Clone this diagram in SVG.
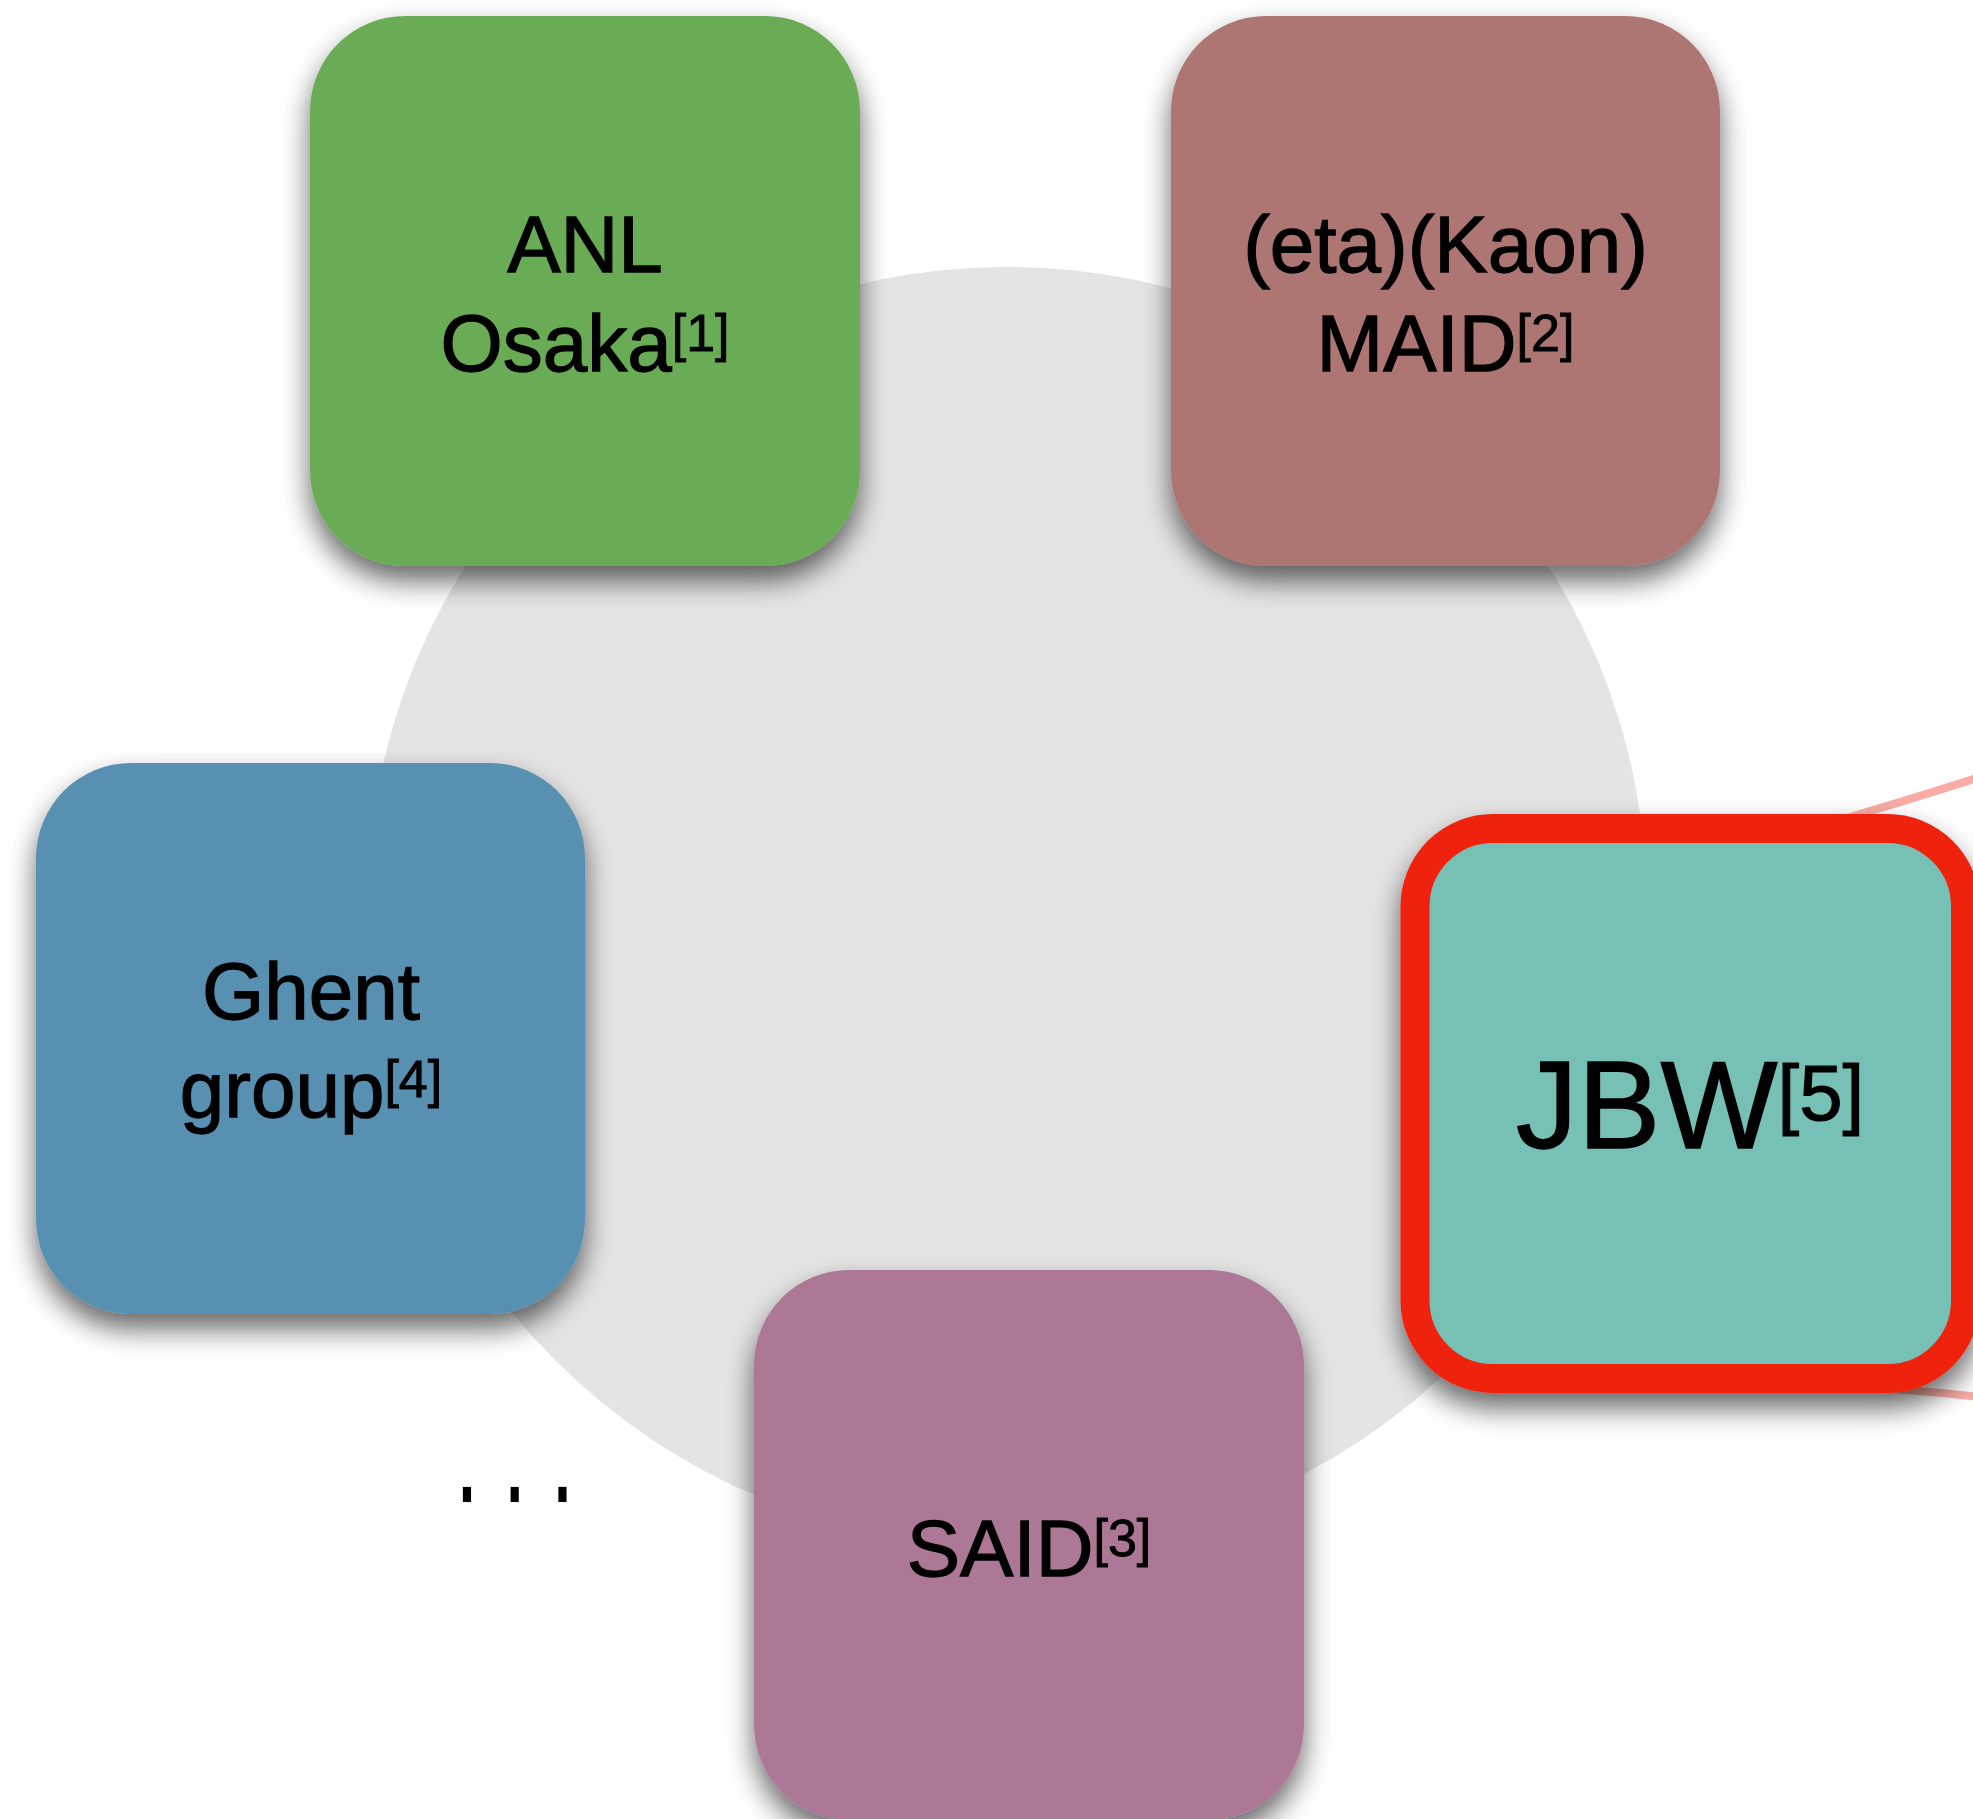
<svg xmlns="http://www.w3.org/2000/svg" width="1973" height="1819" viewBox="0 0 1973 1819">
  <style>
    .lbl { font-family: "Liberation Sans", Arial, Helvetica, sans-serif; fill: #000; stroke: #000; stroke-width: 1.3; text-anchor: middle; }
    .m { font-size: 80px; }
    .sup { font-size: 52px; stroke-width: 0.9; }
    .big { font-size: 124px; }
    .bigsup { font-size: 78px; stroke-width: 1.1; }
    .card { filter: url(#sh); }
    .link { fill: none; stroke: #ee2211; stroke-opacity: 0.38; stroke-width: 8; stroke-linecap: butt; }
  </style>
  <defs>
    <filter id="sh" x="-20%" y="-20%" width="140%" height="150%">
      <feDropShadow dx="0" dy="15" stdDeviation="14" flood-color="#000" flood-opacity="0.6"/>
    </filter>
  </defs>
  <rect x="0" y="0" width="1973" height="1819" fill="#ffffff"/>
  <circle id="hub" cx="1007" cy="907" r="640" fill="#e4e4e4"/>

  <g id="connectors">
    <path class="link" d="M1840,820 Q1915,798 1980,777"/>
    <path class="link" d="M1840,1386 Q1910,1389 1980,1397"/>
  </g>

  <g id="node-anl">
    <rect class="card" x="310" y="16" width="550" height="550" rx="95" fill="#6aac57"/>
    <text class="lbl m" x="585" y="272">ANL</text>
    <text class="lbl m" x="585" y="371">Osaka<tspan class="sup" dy="-20">[1]</tspan></text>
  </g>

  <g id="node-maid">
    <rect class="card" x="1171" y="16" width="549" height="550" rx="95" fill="#ad7673"/>
    <text class="lbl m" x="1445.5" y="272">(eta)(Kaon)</text>
    <text class="lbl m" x="1445.5" y="371">MAID<tspan class="sup" dy="-20">[2]</tspan></text>
  </g>

  <g id="node-ghent">
    <rect class="card" x="36" y="763" width="549" height="551" rx="95" fill="#5890b2"/>
    <text class="lbl m" x="311" y="1019">Ghent</text>
    <text class="lbl m" x="311" y="1117">group<tspan class="sup" dy="-20">[4]</tspan></text>
  </g>

  <g id="node-said">
    <rect class="card" x="754" y="1270" width="550" height="550" rx="95" fill="#ad7896"/>
    <text class="lbl m" x="1029" y="1576">SAID<tspan class="sup" dy="-20">[3]</tspan></text>
  </g>

  <g id="node-jbw">
    <rect class="card" x="1415" y="828.5" width="550.5" height="550" rx="78" fill="#77c0b5" stroke="#ee2211" stroke-width="29"/>
    <text class="lbl big" x="1690" y="1148">JBW<tspan class="bigsup" dy="-28">[5]</tspan></text>
  </g>

  <text class="lbl" style="text-anchor:start; stroke:none" font-size="86" transform="translate(455,1502) scale(1,1.65)" x="0" y="0">. . .</text>
</svg>
